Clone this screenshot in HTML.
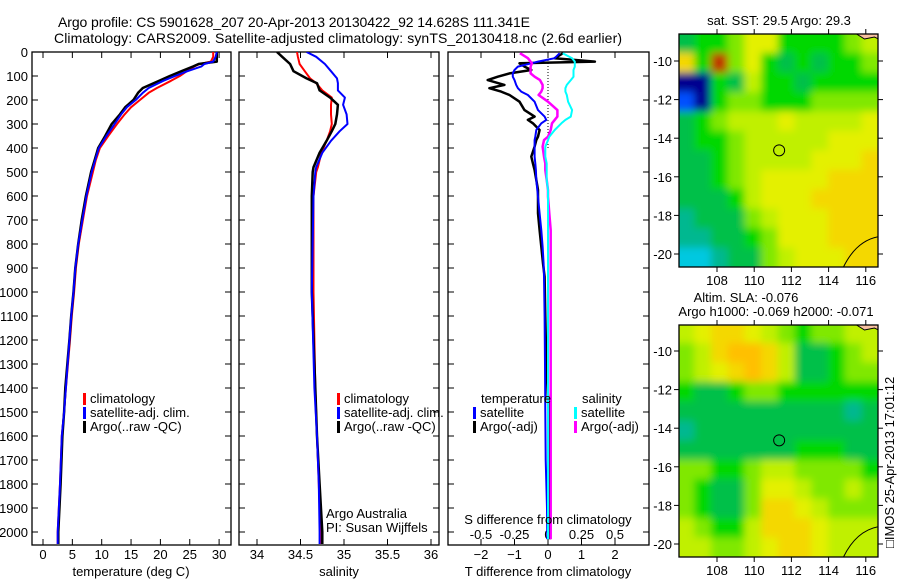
<!DOCTYPE html>
<html><head><meta charset="utf-8"><style>
body{margin:0;background:#fff;}
svg{display:block;font-family:"Liberation Sans",sans-serif;}
</style></head><body>
<svg id="fig" width="900" height="580" viewBox="0 0 900 580">
<defs>
<clipPath id="cp1"><rect x="32" y="52" width="199" height="493"/></clipPath>
<clipPath id="cp2"><rect x="239" y="52" width="200" height="493"/></clipPath>
<clipPath id="cp3"><rect x="448" y="52" width="201" height="493"/></clipPath>
<clipPath id="cpm1"><rect x="679" y="34" width="199" height="233"/></clipPath>
<clipPath id="cpm2"><rect x="679" y="325" width="199" height="232"/></clipPath>
<filter id="bl" filterUnits="userSpaceOnUse" x="650" y="0" width="250" height="580"><feGaussianBlur stdDeviation="4"/></filter>
</defs>
<text x="58" y="27" font-size="14" textLength="472">Argo profile: CS 5901628_207 20-Apr-2013 20130422_92 14.628S 111.341E</text>
<text x="54" y="43" font-size="14" textLength="568">Climatology: CARS2009. Satellite-adjusted climatology: synTS_20130418.nc (2.6d earlier)</text>
<g id="g"></g>
</svg>
<script>
// ---- depth grids ----
const tDepth=[0,20,40,50,60,80,100,120,150,170,200,230,260,300,350,400,450,500,600,700,800,900,1000,1100,1200,1400,1500,1600,1800,2000,2050];
const tClim=[29.0,29.0,28.6,26.7,25.8,24.5,23.3,21.8,19.4,18.0,16.5,15.0,13.9,12.6,11.1,9.7,9.0,8.5,7.5,6.8,6.1,5.6,5.3,4.9,4.6,3.9,3.6,3.2,2.9,2.5,2.5];
const tArgo=[29.6,29.6,29.6,26.5,25.6,23.6,21.6,19.8,17.0,16.2,15.4,14.0,13.1,11.7,10.6,9.4,8.8,8.2,7.3,6.6,6.0,5.5,5.2,4.8,4.5,3.8,3.6,3.3,3.0,2.6,2.6];
const tSat=[29.6,29.4,29.0,27.5,27.0,24.6,22.5,20.5,18.0,17.0,15.8,14.3,13.3,12.2,10.8,9.5,8.9,8.3,7.4,6.7,6.0,5.5,5.2,4.8,4.5,3.9,3.6,3.2,2.9,2.5,2.5];
const sDepth=[0,20,50,80,110,130,160,190,220,260,300,330,370,420,480,500,600,1000,1400,1600,1800,2000,2050];
const sClim=[34.46,34.47,34.49,34.55,34.61,34.68,34.75,34.86,34.85,34.85,34.86,34.84,34.80,34.74,34.70,34.68,34.65,34.65,34.67,34.69,34.71,34.73,34.73];
const sArgo=[34.23,34.29,34.38,34.42,34.57,34.69,34.72,34.84,34.93,34.92,34.90,34.86,34.80,34.72,34.65,34.64,34.63,34.63,34.67,34.69,34.72,34.75,34.75];
const sSat=[34.57,34.68,34.78,34.85,34.92,34.93,34.93,35.01,34.99,35.03,35.04,34.95,34.85,34.75,34.68,34.67,34.65,34.63,34.66,34.69,34.71,34.72,34.72];
const dDepth=[5,26,40,47,61,75,89,103,117,137,151,165,179,207,242,269,283,297,325,353,367,394,436,464,492,533,575,603,672,742,811,881,936,1100,1300,1500,1700,1900,2030];
const dTArgo=[0.45,0.2,1.4,-0.85,-0.7,-0.5,-1.15,-1.5,-1.8,-1.3,-1.75,-1.4,-1.15,-0.85,-0.7,-0.4,-0.6,-0.45,-0.25,-0.3,-0.35,-0.4,-0.5,-0.45,-0.4,-0.35,-0.3,-0.3,-0.3,-0.25,-0.2,-0.15,-0.1,-0.08,-0.05,0.02,0.05,0.05,0.05];
const dTSat=[0.35,0.2,-0.3,-0.5,-0.9,-1.0,-1.05,-1.05,-1.0,-0.95,-0.9,-0.8,-0.6,-0.4,-0.3,-0.1,-0.05,-0.2,-0.35,-0.38,-0.4,-0.4,-0.4,-0.38,-0.36,-0.35,-0.32,-0.3,-0.25,-0.2,-0.16,-0.13,-0.12,-0.1,-0.09,-0.08,-0.07,-0.03,-0.02];
const dSArgo=[-0.21,-0.15,-0.13,-0.12,-0.13,-0.13,-0.13,-0.1,-0.06,-0.04,-0.04,-0.05,-0.07,0.0,0.07,0.07,0.05,0.03,0.02,0.0,-0.03,-0.04,-0.03,-0.02,-0.02,-0.01,0.0,0.0,0.01,0.02,0.02,0.02,0.02,0.02,0.02,0.02,0.02,0.02,0.02];
const dSSat=[0.11,0.18,0.2,0.2,0.2,0.19,0.19,0.19,0.17,0.14,0.13,0.13,0.14,0.15,0.18,0.17,0.13,0.1,0.05,0.01,0.0,-0.02,-0.02,-0.01,-0.01,-0.01,0.0,0.0,0.0,0.0,0.0,0.0,0.0,0.0,0.0,0.0,0.0,0.0,0.0];
const depthTicks=[0,100,200,300,400,500,600,700,800,900,1000,1100,1200,1300,1400,1500,1600,1700,1800,1900,2000];
const tTicks=[0,5,10,15,20,25,30];
const sTicks=[34,34.5,35,35.5,36];
const sTickLabels=["34","34.5","35","35.5","36"];
const dtTicks=[-2,-1,0,1,2];
const dsTicks=[-0.5,-0.25,0,0.25,0.5];
const dsTickLabels=["-0.5","-0.25","0","0.25","0.5"];
const lonTicks=[108,110,112,114,116];
const latTicks=[-10,-12,-14,-16,-18,-20];
const floatLon=111.341, floatLat=-14.628;
// map grids (rows lat -9 .. -20, cols lon 106.5 .. 116.5), colour index 0..11
const sstGrid=[
[4,5,5,6,8,8,5,5,5,5,6,7],
[9,5,11,6,8,5,4,5,4,5,5,6],
[0,0,5,4,7,5,5,4,5,5,5,5],
[1,0,5,6,6,5,5,5,6,6,6,6],
[4,5,6,7,7,7,8,7,7,7,7,8],
[4,5,5,6,7,7,7,7,7,8,8,8],
[4,4,5,6,7,7,7,7,8,8,8,9],
[4,4,5,6,7,8,8,8,8,9,9,9],
[4,4,4,5,7,8,8,8,9,9,9,9],
[3,4,4,4,6,7,8,8,8,9,9,9],
[3,3,4,4,5,6,8,8,8,9,9,9],
[2,2,3,4,4,6,7,8,8,8,9,9]];
const slaGrid=[
[7,8,9,9,8,7,6,5,6,6,7,7],
[6,7,9,10,10,9,7,4,4,5,6,7],
[6,7,8,9,10,9,7,4,4,5,6,6],
[5,4,4,5,6,6,5,5,5,5,5,5],
[4,4,4,4,4,4,4,4,4,4,3,4],
[3,4,4,4,4,4,4,4,4,4,4,4],
[4,4,4,4,4,4,4,5,5,5,4,4],
[6,6,5,5,6,7,7,6,6,6,6,5],
[6,5,4,4,6,8,8,7,6,6,7,6],
[6,5,4,4,6,9,9,8,7,6,6,6],
[7,6,5,5,7,9,9,9,8,7,7,7],
[7,7,6,6,7,8,9,9,8,7,7,7]];
const cmap=["#00008f","#0050ff","#00c8e0","#00b890","#00c048","#00d800","#80e800","#c0f000","#e4f000","#f4d800","#ffc000","#c03000"];

const NS="http://www.w3.org/2000/svg";
const G=document.getElementById('g');
function el(tag,attrs,parent,txt){const e=document.createElementNS(NS,tag);for(const k in attrs)e.setAttribute(k,attrs[k]);if(txt!==undefined)e.textContent=txt;(parent||G).appendChild(e);return e;}
const yD=d=>52+d*0.24;
const xT=t=>43+t*5.87;
const xS=s=>257+(s-34)*87;
const xDT=t=>548+t*33.5;
const xDS=s=>548+s*134;

function panel(x0,w,name){
  const g=el('g',{});
  
  
  el('rect',{x:x0,y:52,width:w,height:493,fill:'#fff',stroke:'#000','stroke-width':1.3},g);
  depthTicks.forEach(d=>{const y=yD(d);
    el('line',{x1:x0,y1:y,x2:x0+6,y2:y,stroke:'#000'},g);
    el('line',{x1:x0+w-6,y1:y,x2:x0+w,y2:y,stroke:'#000'},g);});
  return g;
}
function xticks(g,ticks,fx,labels,ly){
  ticks.forEach((t,i)=>{const x=fx(t);
    el('line',{x1:x,y1:52,x2:x,y2:58,stroke:'#000'},g);
    el('line',{x1:x,y1:539,x2:x,y2:545,stroke:'#000'},g);
    if(labels){const tx=el('text',{x:x,y:ly,'font-size':13,'text-anchor':'middle'},g,labels[i]);
      
      }
  });
}
function line(g,depths,vals,fx,color,w,clip,name,dash){
  const pts=depths.map((d,i)=>fx(vals[i]).toFixed(1)+','+yD(d).toFixed(1)).join(' ');
  const a={points:pts,fill:'none',stroke:color,'stroke-width':w,'clip-path':'url(#'+clip+')','stroke-linejoin':'round'};
  if(dash)a['stroke-dasharray']=dash;
  const p=el('polyline',a,g);
  
  
}
function legend(g,x,y,color,label,name){
  el('rect',{x:x,y:y-10,width:3,height:12,fill:color},g);
  const t=el('text',{x:x+7,y:y,'font-size':13},g,label);
  
  
}
// panel 1
const p1=panel(32,199,'temperature-panel');
depthTicks.forEach(d=>{const t=el('text',{x:28,y:yD(d)+5,'font-size':13,'text-anchor':'end'},p1,String(d));
  
  });
xticks(p1,tTicks,xT,tTicks.map(String),559);
line(p1,tDepth,tClim,xT,'#f00',2,'cp1','temp-climatology-line');
line(p1,tDepth,tArgo,xT,'#000',2.5,'cp1','temp-argo-line');
line(p1,tDepth,tSat,xT,'#00f',2,'cp1','temp-satellite-line');
legend(p1,83,403,'#f00','climatology','legend-climatology');
legend(p1,83,417,'#00f','satellite-adj. clim.','legend-satellite');
legend(p1,83,431,'#000','Argo(..raw -QC)','legend-argo');
let tt=el('text',{x:131,y:576,'font-size':13,'text-anchor':'middle'},p1,'temperature (deg C)');


// panel 2
const p2=panel(239,200,'salinity-panel');
xticks(p2,sTicks,xS,sTickLabels,559);
line(p2,sDepth,sClim,xS,'#f00',2,'cp2','sal-climatology-line');
line(p2,sDepth,sArgo,xS,'#000',2.5,'cp2','sal-argo-line');
line(p2,sDepth,sSat,xS,'#00f',2,'cp2','sal-satellite-line');
legend(p2,337,403,'#f00','climatology','legend-climatology');
legend(p2,337,417,'#00f','satellite-adj. clim.','legend-satellite');
legend(p2,337,431,'#000','Argo(..raw -QC)','legend-argo');
tt=el('text',{x:326,y:518,'font-size':13},p2,'Argo Australia');


tt=el('text',{x:326,y:532,'font-size':13},p2,'PI: Susan Wijffels');


tt=el('text',{x:339,y:576,'font-size':13,'text-anchor':'middle'},p2,'salinity');


// panel 3
const p3=panel(448,201,'difference-panel');
xticks(p3,dtTicks,xDT,dtTicks.map(v=>v<0?'\u2212'+(-v):String(v)),559);
dsTicks.forEach((s,i)=>{const t=el('text',{x:xDS(s),y:539,'font-size':13,'text-anchor':'middle'},p3,dsTickLabels[i]);
  
  });
el('line',{x1:548,y1:54,x2:548,y2:150,stroke:'#000','stroke-dasharray':'1,2'},p3);
line(p3,dDepth,dTArgo,xDT,'#000',2.5,'cp3','tdiff-argo-line');
line(p3,dDepth,dTSat,xDT,'#00f',2,'cp3','tdiff-satellite-line');
line(p3,dDepth,dSArgo,xDS,'#f0f',2.5,'cp3','sdiff-argo-line');
line(p3,dDepth,dSSat,xDS,'#0ff',2,'cp3','sdiff-satellite-line');
tt=el('text',{x:481,y:403,'font-size':13},p3,'temperature');


tt=el('text',{x:582,y:403,'font-size':13},p3,'salinity');


legend(p3,473,417,'#00f','satellite','legend-t-satellite');
legend(p3,473,431,'#000','Argo(-adj)','legend-t-argo');
legend(p3,574,417,'#0ff','satellite','legend-s-satellite');
legend(p3,574,431,'#f0f','Argo(-adj)','legend-s-argo');
tt=el('text',{x:548,y:524,'font-size':13,'text-anchor':'middle'},p3,'S difference from climatology');


tt=el('text',{x:548,y:576,'font-size':13,'text-anchor':'middle'},p3,'T difference from climatology');



// maps
function map(y0,h,latTopY,grid,clip,name){
  const g=el('g',{});
  
  
  const xL=lon=>717+(lon-108)*18.6;
  const yL=lat=>latTopY+(-10-lat)*19.3;
  const img=el('g',{'clip-path':'url(#'+clip+')'},g);
  const inner=el('g',{filter:'url(#bl)'},img);
  const nr=grid.length,nc=grid[0].length;
  const cw=18.6*10.8/nc, ch=19.3*12.1/nr;
  grid.forEach((row,r)=>row.forEach((v,c)=>{
    const lon0=105.9+c*(10.8/nc), lat0=-8.6-r*(12.1/nr);
    let x=xL(lon0)-0.5,y=yL(lat0)-0.5,w=cw+1,hh=ch+1;
    if(c===0){x-=15;w+=15;} if(c===nc-1){w+=15;}
    if(r===0){y-=15;hh+=15;} if(r===nr-1){hh+=15;}
    const rc=el('rect',{x:x,y:y,width:w,height:hh,fill:cmap[v]},inner);
    
    
  }));
  el('path',{d:`M${xL(114.8)} ${y0+h} Q ${xL(115.5)} ${yL(-19.3)} ${xL(116.7)} ${yL(-19.1)}`,fill:'none',stroke:'#000','stroke-width':1},img);
  el('path',{d:`M${xL(115.5)} ${y0} l8 5 l10 -2 l12 6 l10 -9 z`,fill:'#f8c0a0',stroke:'#000','stroke-width':1},img);
  el('rect',{x:679,y:y0,width:199,height:h,fill:'none',stroke:'#000','stroke-width':1.3},g);
  const cx=xL(floatLon),cy=yL(floatLat);
  const mk=el('circle',{cx:cx,cy:cy,r:5.5,fill:'none',stroke:'#000','stroke-width':1},g);
  
  
  lonTicks.forEach(l=>{const x=xL(l);
    el('line',{x1:x,y1:y0,x2:x,y2:y0-5,stroke:'#000'},g);
    el('line',{x1:x,y1:y0+h,x2:x,y2:y0+h+5,stroke:'#000'},g);
    const t=el('text',{x:x,y:y0+h+18,'font-size':13,'text-anchor':'middle'},g,String(l));
    
    });
  latTicks.forEach(l=>{const y=yL(l);
    el('line',{x1:679,y1:y,x2:674,y2:y,stroke:'#000'},g);
    el('line',{x1:878,y1:y,x2:883,y2:y,stroke:'#000'},g);
    const t=el('text',{x:672,y:y+5,'font-size':13,'text-anchor':'end'},g,'-'+(-l));
    
    });
}
map(34,233,61,sstGrid,'cpm1','sst-map');
map(325,232,351,slaGrid,'cpm2','sla-map');
tt=el('text',{x:779,y:25,'font-size':13,'text-anchor':'middle'},G,'sat. SST: 29.5 Argo: 29.3');


tt=el('text',{x:746,y:302,'font-size':13,'text-anchor':'middle'},G,'Altim. SLA: -0.076');


tt=el('text',{x:776,y:316,'font-size':13,'text-anchor':'middle'},G,'Argo h1000: -0.069 h2000: -0.071');


tt=el('text',{x:0,y:0,'font-size':13,transform:'translate(894,548) rotate(-90)'},G,'\u25A1IMOS 25-Apr-2013 17:01:12');


</script>
</body></html>
